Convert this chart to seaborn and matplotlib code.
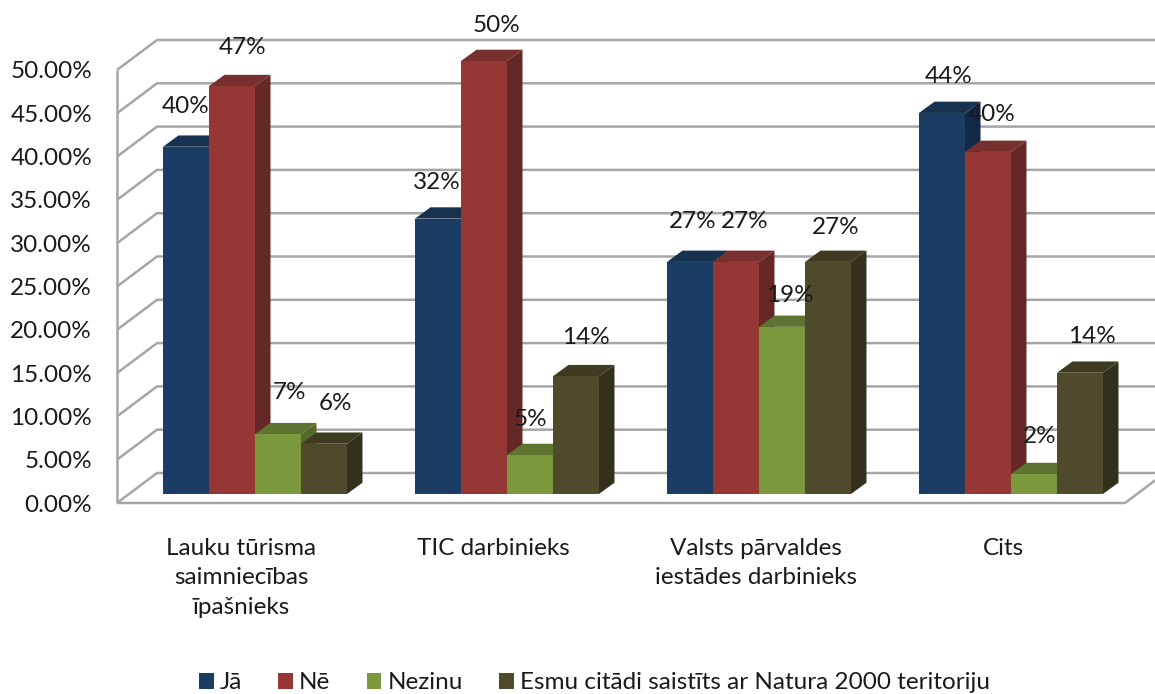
import numpy as np
import pandas as pd
import matplotlib
matplotlib.use('Agg')
import matplotlib.pyplot as plt
from matplotlib.patches import Polygon
import seaborn as sns

categories = ['Lauku tūrisma\nsaimniecības\nīpašnieks', 'TIC darbinieks',
              'Valsts pārvaldes\niestādes darbinieks', 'Cits']
series_names = ['Jā', 'Nē', 'Nezinu', 'Esmu citādi saistīts ar Natura 2000 teritoriju']

ja = [40.1, 31.8, 26.8, 44.0]
ne = [47.1, 50.0, 26.8, 39.5]
nezinu = [6.9, 4.5, 19.3, 2.3]
esmu = [5.8, 13.6, 26.8, 14.0]

value_labels = ['40%', '32%', '27%', '44%', '47%', '50%', '27%', '40%',
                '7%', '5%', '19%', '2%', '6%', '14%', '27%', '14%']
y_ticks = [0, 5, 10, 15, 20, 25, 30, 35, 40, 45, 50]

# label nudges in px from bar centre / bar top, same order as value_labels
nudge_x = [0, -1, 3, 7, 11, 13, 9, 4, 12, 0, 8, 6, 12, 10, 8, 12]
nudge_y = [40, 36, 40, 36, 39, 36, 40, 37, 42, 36, 31, 38, 40, 39, 34, 36]
cat_nudge = [-14, -14, -3, -8]

front = ['#1B3D63', '#953735', '#7B983C', '#4F4A2B']
top = ['#17324F', '#77302D', '#5F7430', '#3F3B22']
side = ['#12294A', '#652826', '#546A2A', '#33301C']
grid_c = '#A6A6A6'

sns.set_theme(style='white')
plt.rcParams['font.family'] = ['Lato', 'DejaVu Sans']
plt.rcParams['text.color'] = '#1a1a1a'

W, H = 1155, 694
px_x = 252.0    # px per category
px_y = 8.66     # px per percent
fs = 17.5

fig = plt.figure(figsize=(W / 100, H / 100), dpi=100)
ax = fig.add_axes([0, 0, 1, 1])

df = pd.DataFrame({
    'cat': categories * 4,
    'series': np.repeat(series_names, 4),
    'value': ja + ne + nezinu + esmu,
})
sns.barplot(data=df, x='cat', y='value', hue='series', order=categories, hue_order=series_names,
            palette=front, saturation=1, width=0.73, gap=0, errorbar=None, ax=ax, linewidth=0)

x_left = -0.5 - 129 / px_x
ax.set_xlim(x_left, x_left + W / px_x)
ax.set_ylim(-200 / px_y, 494 / px_y)
ax.set_axis_off()

# walls and floor
wall_x = -0.5 - 12 / px_x
wall_y = -9 / px_y
back_dx = 40 / px_x
back_dy = 30 / px_y
right_x = wall_x + len(categories)
grid_kw = dict(color=grid_c, lw=1.8, zorder=1, solid_capstyle='butt')

for t in y_ticks:
    y = t + wall_y
    ax.plot([wall_x, wall_x + back_dx, right_x + back_dx], [y, y + back_dy, y + back_dy], **grid_kw)
    ax.text(-0.5 - 37 / px_x, y - 2 / px_y, f'{t:.2f}%', ha='right', va='center', fontsize=fs)

ax.plot([wall_x, wall_x], [wall_y, 50 + wall_y], **grid_kw)
ax.plot([wall_x, right_x, right_x + back_dx], [wall_y, wall_y, wall_y + back_dy], **grid_kw)

# depth faces for each bar, left to right so the next bar covers the last one
bar_dx = 15.5 / px_x
bar_dy = 11.3 / px_y
bars = []
for k, cont in enumerate(ax.containers):
    for rect in cont:
        bars.append((rect.get_x(), k, rect))
bars.sort(key=lambda b: b[0])

for i, (x0, k, rect) in enumerate(bars):
    w = rect.get_width()
    h = rect.get_height()
    z = 3 + i * 0.01
    rect.set_zorder(z + 0.002)
    ax.add_patch(Polygon([(x0, h), (x0 + bar_dx, h + bar_dy), (x0 + w + bar_dx, h + bar_dy), (x0 + w, h)],
                         closed=True, fc=top[k], ec='none', zorder=z))
    ax.add_patch(Polygon([(x0 + w, 0), (x0 + w + bar_dx, bar_dy), (x0 + w + bar_dx, h + bar_dy), (x0 + w, h)],
                         closed=True, fc=side[k], ec='none', zorder=z + 0.001))

# value labels
n = 0
for cont in ax.containers:
    for rect in cont:
        ax.text(rect.get_x() + rect.get_width() / 2 + nudge_x[n] / px_x,
                rect.get_height() + nudge_y[n] / px_y, value_labels[n],
                ha='center', va='center', fontsize=fs, zorder=10)
        n += 1

# category labels
for i, c in enumerate(categories):
    ax.text(i + cat_nudge[i] / px_x, -44 / px_y, c, ha='center', va='top',
            fontsize=fs, linespacing=1.49)

sns.move_legend(ax, 'center', bbox_to_anchor=(0.5147, 0.0159), ncol=4, title=None, frameon=False,
                fontsize=fs, handlelength=0.6, handleheight=0.6, handletextpad=0.25,
                columnspacing=1.5, borderpad=0, borderaxespad=0)

fig.savefig('out.png', dpi=100)
